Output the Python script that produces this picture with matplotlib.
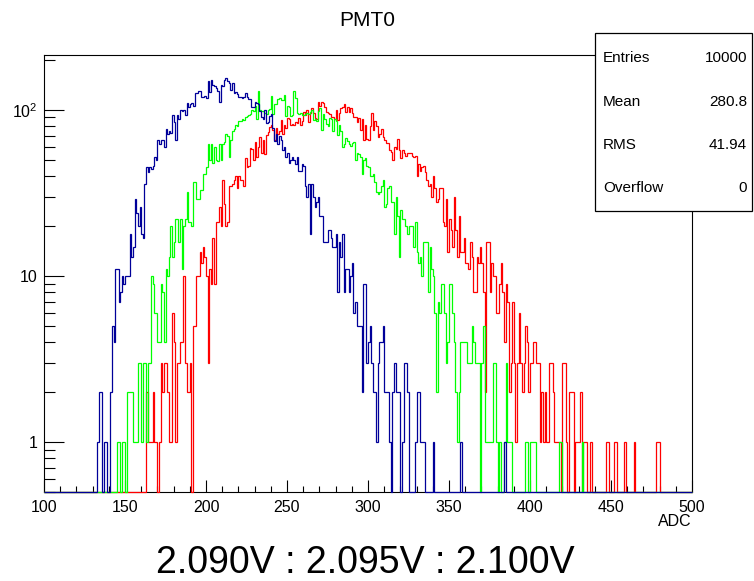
import numpy as np
import matplotlib
matplotlib.use("Agg")
import matplotlib.pyplot as plt
from matplotlib.ticker import FixedLocator, FuncFormatter, MultipleLocator, NullFormatter
from matplotlib.patches import Rectangle

plt.rcParams['font.family'] = ['Liberation Sans', 'DejaVu Sans']
plt.rcParams['mathtext.fontset'] = 'custom'
plt.rcParams['mathtext.rm'] = 'Liberation Sans'

# --- data: counts per 1-ADC bin ---
x_min, x_max = 100, 500

# 2.090V (blue), first bin at ADC 133
blue_start = 133
blue_counts = [
    1, 2, 2, 0, 1, 1, 0, 0, 2, 5,
    4, 11, 11, 7, 8, 10, 9, 10, 10, 10,
    18, 13, 15, 29, 24, 20, 26, 18, 17, 36,
    45, 42, 45, 44, 46, 52, 50, 66, 62, 66,
    66, 60, 77, 72, 75, 73, 93, 85, 66, 93,
    88, 100, 98, 100, 93, 110, 104, 108, 110, 106,
    126, 126, 130, 130, 120, 120, 122, 118, 150, 128,
    152, 141, 140, 136, 130, 112, 141, 140, 152, 155,
    150, 145, 132, 145, 126, 128, 124, 120, 120, 118,
    120, 126, 120, 116, 116, 104, 104, 112, 110, 108,
    98, 90, 88, 100, 83, 84, 92, 95, 78, 65,
    72, 62, 70, 66, 57, 60, 52, 55, 48, 50,
    52, 50, 47, 52, 43, 43, 47, 46, 35, 30,
    36, 18, 36, 30, 26, 28, 30, 23, 23, 16,
    16, 16, 19, 19, 17, 15, 15, 18, 8, 16,
    13, 18, 8, 11, 11, 8, 10, 12, 6, 7,
    5, 5, 5, 2, 9, 9, 3, 4, 5, 3,
    2, 2, 1, 3, 4, 4, 5, 2, 2, 2,
    1, 0, 2, 3, 2, 2, 2, 0, 1, 3,
    3, 2, 0, 0, 0, 0, 1, 2, 2, 1,
    1, 1, 0, 0, 0, 0, 0, 1, 0, 0,
    0, 0, 0, 0, 0, 0, 0, 0, 0, 0,
    0, 0, 0, 0, 1, 0, 0, 0, 0, 0,
    0, 0, 0, 0, 0, 0, 0, 0, 0, 0,
    0, 0, 0, 0, 0, 0, 0, 0, 0, 0,
    0, 1,
]

# 2.095V (green), first bin at ADC 145
green_start = 145
green_counts = [
    1, 1, 0, 1, 1, 0, 2, 2, 2, 2,
    1, 1, 1, 3, 3, 1, 3, 3, 1, 3,
    3, 10, 9, 6, 6, 4, 4, 9, 8, 4,
    11, 10, 13, 20, 13, 16, 22, 22, 16, 22,
    11, 20, 22, 32, 21, 21, 20, 37, 37, 29,
    29, 33, 33, 41, 41, 45, 62, 50, 62, 48,
    60, 50, 49, 62, 50, 62, 64, 72, 70, 52,
    66, 75, 77, 81, 80, 86, 86, 88, 87, 91,
    92, 93, 95, 100, 99, 105, 88, 130, 100, 98,
    99, 96, 95, 100, 101, 122, 94, 108, 108, 117,
    118, 115, 114, 123, 92, 106, 104, 92, 93, 130,
    118, 96, 95, 96, 93, 93, 95, 96, 95, 97,
    100, 87, 88, 86, 98, 102, 76, 95, 88, 82,
    80, 89, 88, 75, 88, 86, 71, 81, 75, 60,
    62, 68, 65, 62, 61, 63, 64, 50, 55, 54,
    52, 41, 50, 51, 46, 45, 40, 40, 41, 37,
    32, 31, 32, 35, 38, 26, 27, 34, 35, 28,
    28, 18, 30, 23, 13, 25, 22, 22, 20, 18,
    20, 20, 20, 15, 21, 14, 12, 13, 10, 16,
    16, 16, 8, 15, 11, 10, 6, 2, 7, 6,
    9, 9, 6, 3, 4, 9, 9, 6, 4, 2,
    1, 2, 4, 4, 4, 4, 3, 3, 3, 5,
    4, 3, 3, 3, 0, 3, 5, 1, 1, 1,
    1, 1, 3, 3, 1, 0, 1, 0, 0, 1,
    3, 1, 1, 1, 0, 0, 0, 0, 0, 0,
    0, 0, 1, 1, 0, 1, 1, 1, 1, 0,
    0, 0, 0, 0, 0, 0, 0, 0, 0, 0,
    0, 0, 0, 1, 1, 0, 0, 0, 0, 0,
    0, 0, 0, 0, 0, 0, 0, 1,
]

# 2.100V (red), first bin at ADC 163
red_start = 163
red_counts = [
    2, 1, 1, 1, 2, 1, 1, 0, 1, 3,
    2, 3, 3, 2, 1, 1, 6, 4, 1, 3,
    3, 4, 4, 10, 3, 2, 2, 3, 0, 5,
    5, 10, 10, 14, 12, 15, 13, 10, 3, 11,
    9, 17, 9, 21, 21, 26, 20, 38, 27, 20,
    21, 35, 35, 36, 38, 40, 34, 40, 38, 38,
    35, 51, 45, 46, 59, 58, 50, 64, 52, 60,
    69, 55, 66, 54, 71, 74, 79, 81, 76, 66,
    78, 72, 75, 87, 72, 81, 78, 89, 88, 81,
    82, 81, 84, 83, 89, 81, 86, 97, 93, 100,
    84, 96, 102, 96, 89, 88, 112, 106, 112, 110,
    104, 97, 96, 95, 91, 90, 88, 100, 87, 96,
    102, 104, 108, 97, 104, 97, 102, 96, 91, 91,
    84, 89, 76, 88, 66, 81, 67, 66, 80, 96,
    76, 86, 80, 69, 72, 77, 69, 66, 63, 63,
    57, 56, 50, 60, 58, 67, 57, 51, 57, 55,
    53, 55, 55, 55, 53, 52, 53, 40, 47, 43,
    45, 46, 42, 38, 35, 36, 30, 40, 34, 28,
    29, 34, 34, 21, 20, 29, 14, 22, 19, 15,
    30, 19, 13, 23, 14, 14, 17, 12, 12, 11,
    16, 13, 8, 8, 13, 12, 15, 12, 8, 2,
    16, 16, 8, 12, 10, 10, 6, 6, 9, 12,
    8, 4, 9, 7, 2, 3, 7, 3, 1, 3,
    6, 3, 2, 3, 5, 4, 2, 3, 3, 4,
    4, 3, 3, 1, 2, 1, 2, 1, 1, 3,
    3, 2, 1, 1, 1, 1, 0, 3, 3, 1,
    0, 2, 2, 2, 0, 1, 1, 1, 2, 0,
    1, 1, 0, 0, 1, 0, 0, 0, 0, 0,
    0, 0, 0, 0, 1, 1, 0, 0, 0, 1,
    1, 0, 0, 0, 0, 1, 0, 0, 0, 0,
    0, 1, 0, 0, 0, 0, 0, 0, 0, 0,
    0, 0, 0, 0, 0, 1, 1,
]

stat_names = ['Entries', 'Mean', 'RMS', 'Overflow']
stat_values = ['10000', '280.8', '41.94', '0']
title = 'PMT0'
caption = '2.090V : 2.095V : 2.100V'

edges = np.arange(x_min, x_max + 1)


def fill_hist(start, counts):
    h = np.zeros(len(edges) - 1)
    h[start - x_min:start - x_min + len(counts)] = counts
    return h


y_lo, y_hi = 0.5, 214

W, H = 754, 581
fig = plt.figure(figsize=(W / 100, H / 100), dpi=100)
ax = fig.add_axes([44 / W, (H - 492) / H, (692 - 44) / W, (492 - 55) / H])

# ROOT draws the first histogram (red) first, the others with SAME
for start, counts, color in [(red_start, red_counts, '#ff0000'),
                             (green_start, green_counts, '#00ff00'),
                             (blue_start, blue_counts, '#000099')]:
    h = fill_hist(start, counts)
    ax.stairs(np.maximum(h, y_lo), edges, baseline=None, color=color,
              lw=0.9, zorder=3, clip_on=False)

ax.set_yscale('log')
ax.set_xlim(x_min, x_max)
ax.set_ylim(y_lo, y_hi)

ax.xaxis.set_major_locator(MultipleLocator(50))
ax.xaxis.set_minor_locator(MultipleLocator(10))
ax.yaxis.set_major_locator(FixedLocator([1, 10, 100]))
ax.yaxis.set_minor_locator(FixedLocator([m * d for d in (0.1, 1, 10, 100) for m in range(2, 10)]))
ax.yaxis.set_minor_formatter(NullFormatter())
ylab = {1: '1', 10: '10', 100: r'$\mathregular{10^{2}}$'}
ax.yaxis.set_major_formatter(FuncFormatter(lambda v, p: ylab.get(int(round(v)), '')))

ax.tick_params(axis='x', which='major', direction='in', length=8.5, width=0.8, pad=5.5, labelsize=11.5)
ax.tick_params(axis='x', which='minor', direction='in', length=4.3, width=0.8)
ax.tick_params(axis='y', which='major', direction='in', length=14.5, width=0.8, pad=4.5, labelsize=11.5)
ax.tick_params(axis='y', which='minor', direction='in', length=8, width=0.8)
for s in ax.spines.values():
    s.set_linewidth(0.8)

fig.text(692 / W, 1 - 522 / H, 'ADC', ha='right', va='center', fontsize=11.5)
fig.text(367 / W, 1 - 20 / H, title, ha='center', va='center', fontsize=15)
fig.text(365 / W, 1 - 563 / H, caption, ha='center', va='center', fontsize=27)

# stats box
box = Rectangle((595 / W, 1 - 211 / H), (752 - 595) / W, (211 - 33) / H,
                transform=fig.transFigure, facecolor='white', edgecolor='black',
                lw=0.9, zorder=5)
fig.patches.append(box)
for i, (name, val) in enumerate(zip(stat_names, stat_values)):
    yy = 1 - (58 + i * 43.5) / H
    fig.text(603 / W, yy, name, ha='left', va='center', fontsize=11, zorder=6)
    fig.text(747 / W, yy, val, ha='right', va='center', fontsize=11, zorder=6)

fig.savefig('out.png', dpi=100)
